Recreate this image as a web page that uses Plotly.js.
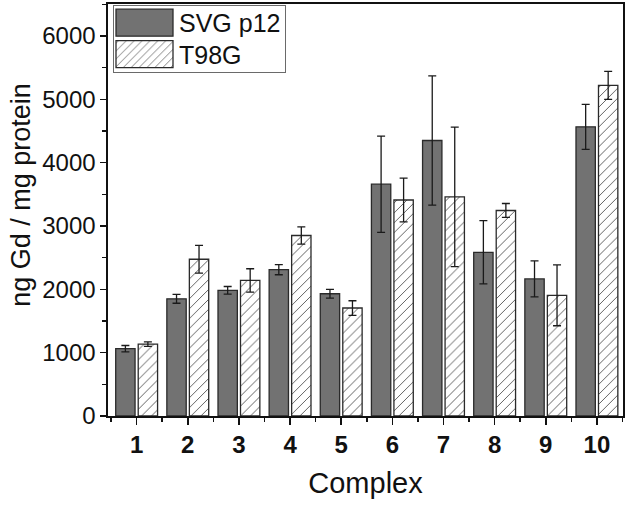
<!DOCTYPE html>
<html>
<head>
<meta charset="utf-8">
<script src="https://cdn.plot.ly/plotly-3.0.1.min.js"></script>
<style>
  html, body { margin: 0; padding: 0; background: #fff; }
  #plot { width: 629px; height: 508px; }
</style>
</head>
<body>
<div id="plot"></div>
<script>
const complexes = [1, 2, 3, 4, 5, 6, 7, 8, 9, 10];
const tickLabels = ['1', '2', '3', '4', '5', '6', '7', '8', '9', '10'];
const svgValues = [1063, 1850, 1985, 2310, 1930, 3660, 4350, 2585, 2165, 4565];
const svgErrors = [50, 70, 60, 80, 70, 760, 1020, 500, 285, 355];
const t98Values = [1135, 2475, 2140, 2850, 1705, 3410, 3460, 3245, 1905, 5220];
const t98Errors = [35, 220, 185, 135, 115, 345, 1100, 110, 480, 220];

const FONT = '"Liberation Sans", Arial, Helvetica, sans-serif';

const data = [
  {
    type: 'bar', name: 'SVG p12', x: complexes, y: svgValues,
    marker: { color: '#727272', line: { color: '#2a2a2a', width: 1.3 } },
    error_y: { type: 'data', array: svgErrors, visible: true, color: '#1a1a1a', thickness: 1.3, width: 4 }
  },
  {
    type: 'bar', name: 'T98G', x: complexes, y: t98Values,
    marker: {
      color: '#ffffff',
      line: { color: '#2a2a2a', width: 1.3 },
      pattern: { shape: '/', fgcolor: '#555555', bgcolor: '#ffffff', size: 7, solidity: 0.13 }
    },
    error_y: { type: 'data', array: t98Errors, visible: true, color: '#1a1a1a', thickness: 1.3, width: 4 }
  }
];

const layout = {
  width: 629, height: 508,
  margin: { l: 108, r: 6, t: 4, b: 91.5 },
  paper_bgcolor: '#ffffff', plot_bgcolor: '#ffffff',
  font: { family: FONT, color: '#111' },
  barmode: 'group', bargap: 0.12, bargroupgap: 0.14,
  showlegend: true,
  legend: {
    x: 0.009, y: 0.998, xanchor: 'left', yanchor: 'top',
    bgcolor: '#ffffff', bordercolor: '#6a6a6a', borderwidth: 1,
    font: { family: FONT, size: 25, color: '#111' },
    itemwidth: 60, tracegroupgap: 0
  },
  xaxis: {
    range: [0.44, 10.51], tickvals: complexes, ticktext: tickLabels,
    ticks: 'outside', ticklen: 7, tickwidth: 1.5, tickcolor: '#111',
    minor: { tick0: 0.5, dtick: 1, ticks: 'outside', ticklen: 4, tickwidth: 1.5, tickcolor: '#111' },
    showline: true, linecolor: '#111', linewidth: 1.6, mirror: true,
    showgrid: false, zeroline: false,
    tickfont: { family: FONT, size: 24, color: '#111', weight: 'bold' },
    title: { text: 'Complex', font: { family: FONT, size: 29, color: '#111' }, standoff: 15 }
  },
  yaxis: {
    range: [0, 6505], tick0: 0, dtick: 1000,
    ticks: 'outside', ticklen: 6, tickwidth: 1.5, tickcolor: '#111',
    minor: { dtick: 500, ticks: 'outside', ticklen: 4, tickwidth: 1.5, tickcolor: '#111' },
    showline: true, linecolor: '#111', linewidth: 1.6, mirror: true,
    showgrid: false, zeroline: false,
    tickfont: { family: FONT, size: 24, color: '#111' },
    title: { text: 'ng Gd / mg protein', font: { family: FONT, size: 27, color: '#111' }, standoff: 8 }
  }
};

Plotly.newPlot('plot', data, layout, { staticPlot: true, displayModeBar: false }).then(gd => {
  // Legend: larger swatches and tighter rows, as in the reference
  const leg = gd.querySelector('.legend');
  if (leg) {
    leg.setAttribute('transform', 'translate(112.5,4.5)');
    const bg = leg.querySelector('rect.bg');
    if (bg) { bg.setAttribute('width', 172.5); bg.setAttribute('height', 67.5); }
    const rowY = [18.2, 49.7];
    leg.querySelectorAll('.traces').forEach((t, i) => {
      t.setAttribute('transform', 'translate(0,' + rowY[i] + ')');
      const lp = t.querySelector('.legendpoints');
      if (lp) {
        lp.querySelectorAll('path').forEach(p => p.setAttribute('d', 'M28.5,13.5H-28.5V-13.5H28.5Z'));
        const r = lp.getBoundingClientRect();
        const dx = 116 - r.left;
        const old = lp.getAttribute('transform') || '';
        lp.setAttribute('transform', old + ' translate(' + dx + ',0)');
      }
      const txt = t.querySelector('text.legendtext');
      if (txt) {
        const tr = txt.getBoundingClientRect();
        txt.setAttribute('transform', 'translate(' + (179 - tr.left) + ',0)');
      }
    });
  }
  // Y title: move slightly up to match reference placement
  const yt = gd.querySelector('.ytitle');
  if (yt) {
    const nx = 30, ny = 195;
    yt.setAttribute('x', nx); yt.setAttribute('y', ny);
    yt.setAttribute('transform', 'rotate(-90,' + nx + ',' + ny + ')');
  }
});
</script>
</body>
</html>
